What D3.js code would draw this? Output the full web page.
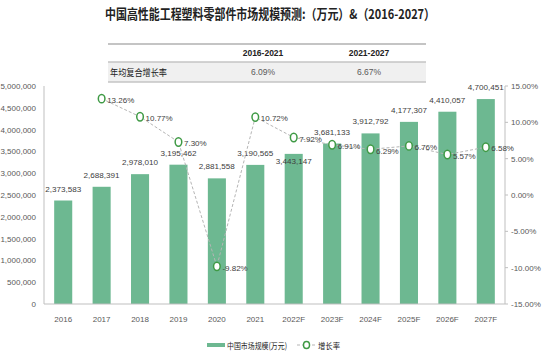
<!DOCTYPE html>
<html><head><meta charset="utf-8">
<script src="https://cdn.jsdelivr.net/npm/d3@7"></script>
<style>
body{margin:0;background:#fff;}
svg{display:block;}
</style></head>
<body>
<svg id="chart" width="546" height="358"></svg>
<script>
const categories = ["2016","2017","2018","2019","2020","2021","2022F","2023F","2024F","2025F","2026F","2027F"];
const marketSize = [2373583,2688391,2978010,3195462,2881558,3190565,3443147,3681133,3912792,4177307,4410057,4700451];
const growthRate = [null,13.26,10.77,7.30,-9.82,10.72,7.92,6.91,6.29,6.76,5.57,6.58];
const leftTicks = [0,500000,1000000,1500000,2000000,2500000,3000000,3500000,4000000,4500000,5000000];
const rightTicks = [-15,-10,-5,0,5,10,15];
const tableHeaders = ["2016-2021","2021-2027"];
const tableRowLabel = "年均复合增长率";
const tableValues = ["6.09%","6.67%"];
const titleText = "中国高性能工程塑料零部件市场规模预测:（万元）&（2016-2027）";
const legendLabels = ["中国市场规模(万元)","增长率"];

const svg = d3.select("#chart");
const narrow = "'Liberation Sans Narrow','Arial Narrow','Liberation Sans',sans-serif";
const cjk = "'Noto Sans CJK SC','Noto Sans',sans-serif";
const barColor = "#6db891";
const circleColor = "#3f9a45";
const textColor = "#404040";

const L = 44, R = 505, T = 86, B = 304;
const x = d3.scaleBand().domain(categories).range([L, R]).paddingInner(0.53).paddingOuter(0.265);
const yL = d3.scaleLinear().domain([0, 5000000]).range([B, T]);
const yR = d3.scaleLinear().domain([-15, 15]).range([B, T]);

// Title
svg.append("text").attr("x", 270).attr("y", 19).attr("text-anchor", "middle")
  .attr("font-family", cjk).attr("font-weight", "bold").attr("font-size", 13.5)
  .attr("fill", "#222").attr("textLength", 330).attr("lengthAdjust", "spacingAndGlyphs")
  .text(titleText);

// Table
const tX0 = 108, tX1 = 426;
svg.append("rect").attr("x", tX0).attr("y", 62).attr("width", tX1 - tX0).attr("height", 20).attr("fill", "#f0f0f0");
[[44, 2], [62, 1.5], [82, 1.5]].forEach(([yy, w]) => {
  svg.append("line").attr("x1", tX0).attr("x2", tX1).attr("y1", yy).attr("y2", yy)
    .attr("stroke", "#c4c4c4").attr("stroke-width", w);
});
const colX = [263, 369];
tableHeaders.forEach((h, i) => {
  svg.append("text").attr("x", colX[i]).attr("y", 56).attr("text-anchor", "middle")
    .attr("font-family", narrow).attr("font-weight", "bold").attr("font-size", 8.5).attr("fill", "#222").text(h);
});
tableValues.forEach((v, i) => {
  svg.append("text").attr("x", colX[i]).attr("y", 75).attr("text-anchor", "middle")
    .attr("font-family", narrow).attr("font-size", 8.5).attr("fill", "#595959").text(v);
});
svg.append("text").attr("x", 110).attr("y", 75.5).attr("font-family", cjk).attr("font-size", 9.5)
  .attr("fill", "#222").attr("textLength", 57).attr("lengthAdjust", "spacingAndGlyphs").text(tableRowLabel);

// Bars
svg.append("g").selectAll("rect").data(categories).join("rect")
  .attr("x", d => x(d)).attr("width", x.bandwidth())
  .attr("y", (d, i) => yL(marketSize[i])).attr("height", (d, i) => B - yL(marketSize[i]))
  .attr("fill", barColor);

// Axes
svg.append("line").attr("x1", L).attr("x2", L).attr("y1", T).attr("y2", B).attr("stroke", "#bfbfbf");
svg.append("line").attr("x1", R).attr("x2", R).attr("y1", T).attr("y2", B).attr("stroke", "#bfbfbf");
svg.append("line").attr("x1", L).attr("x2", R).attr("y1", B).attr("y2", B).attr("stroke", "#bfbfbf");

const fmt = d3.format(",");
svg.append("g").selectAll("text").data(leftTicks).join("text")
  .attr("x", 36).attr("y", d => yL(d) + 3).attr("text-anchor", "end")
  .attr("font-family", narrow).attr("font-size", 8).attr("fill", "#595959")
  .text(d => fmt(d));

const rg = svg.append("g");
rg.selectAll("line").data(rightTicks).join("line")
  .attr("x1", R).attr("x2", R + 3).attr("y1", d => yR(d)).attr("y2", d => yR(d)).attr("stroke", "#bfbfbf");
rg.selectAll("text").data(rightTicks).join("text")
  .attr("x", 511).attr("y", d => yR(d) + 3)
  .attr("font-family", narrow).attr("font-size", 8).attr("fill", "#595959")
  .text(d => d.toFixed(2) + "%");

svg.append("g").selectAll("text").data(categories).join("text")
  .attr("x", d => x(d) + x.bandwidth() / 2).attr("y", 322).attr("text-anchor", "middle")
  .attr("font-family", narrow).attr("font-size", 8).attr("fill", "#595959").text(d => d);

// Bar value labels
const labelDy = {"2022F": 19};
svg.append("g").selectAll("text").data(categories).join("text")
  .attr("x", d => x(d) + x.bandwidth() / 2)
  .attr("y", (d, i) => yL(marketSize[i]) - 9 + (labelDy[d] || 0))
  .attr("text-anchor", "middle").attr("font-family", narrow).attr("font-size", 8.1).attr("fill", textColor)
  .text((d, i) => fmt(marketSize[i]));

// Growth line
const pts = categories.map((c, i) => ({c, v: growthRate[i]})).filter(p => p.v !== null);
const line = d3.line().x(p => x(p.c) + x.bandwidth() / 2).y(p => yR(p.v));
svg.append("path").datum(pts).attr("d", line).attr("fill", "none")
  .attr("stroke", "#b5b5b5").attr("stroke-width", 1).attr("stroke-dasharray", "3,2");
svg.append("g").selectAll("ellipse").data(pts).join("ellipse")
  .attr("cx", p => x(p.c) + x.bandwidth() / 2).attr("cy", p => yR(p.v))
  .attr("rx", 3.3).attr("ry", 4.2).attr("fill", "#fff").attr("stroke", circleColor).attr("stroke-width", 1.5);
svg.append("g").selectAll("text").data(pts).join("text")
  .attr("x", p => x(p.c) + x.bandwidth() / 2 + 5.5).attr("y", p => yR(p.v) + 4.3)
  .attr("font-family", narrow).attr("font-size", 8).attr("fill", textColor)
  .text(p => p.v.toFixed(2) + "%");

// Legend
svg.append("rect").attr("x", 207).attr("y", 343).attr("width", 18).attr("height", 4).attr("fill", barColor);
svg.append("text").attr("x", 227).attr("y", 348.5).attr("font-family", cjk).attr("font-size", 8.5)
  .attr("fill", "#222").attr("textLength", 60).attr("lengthAdjust", "spacingAndGlyphs").text(legendLabels[0]);
svg.append("line").attr("x1", 297).attr("x2", 316).attr("y1", 345).attr("y2", 345)
  .attr("stroke", "#b5b5b5").attr("stroke-dasharray", "3,2");
svg.append("ellipse").attr("cx", 306.5).attr("cy", 345).attr("rx", 3).attr("ry", 3.5)
  .attr("fill", "#fff").attr("stroke", circleColor).attr("stroke-width", 1.5);
svg.append("text").attr("x", 318).attr("y", 348.5).attr("font-family", cjk).attr("font-size", 8.5)
  .attr("fill", "#222").attr("textLength", 22).attr("lengthAdjust", "spacingAndGlyphs").text(legendLabels[1]);
</script>
</body></html>
